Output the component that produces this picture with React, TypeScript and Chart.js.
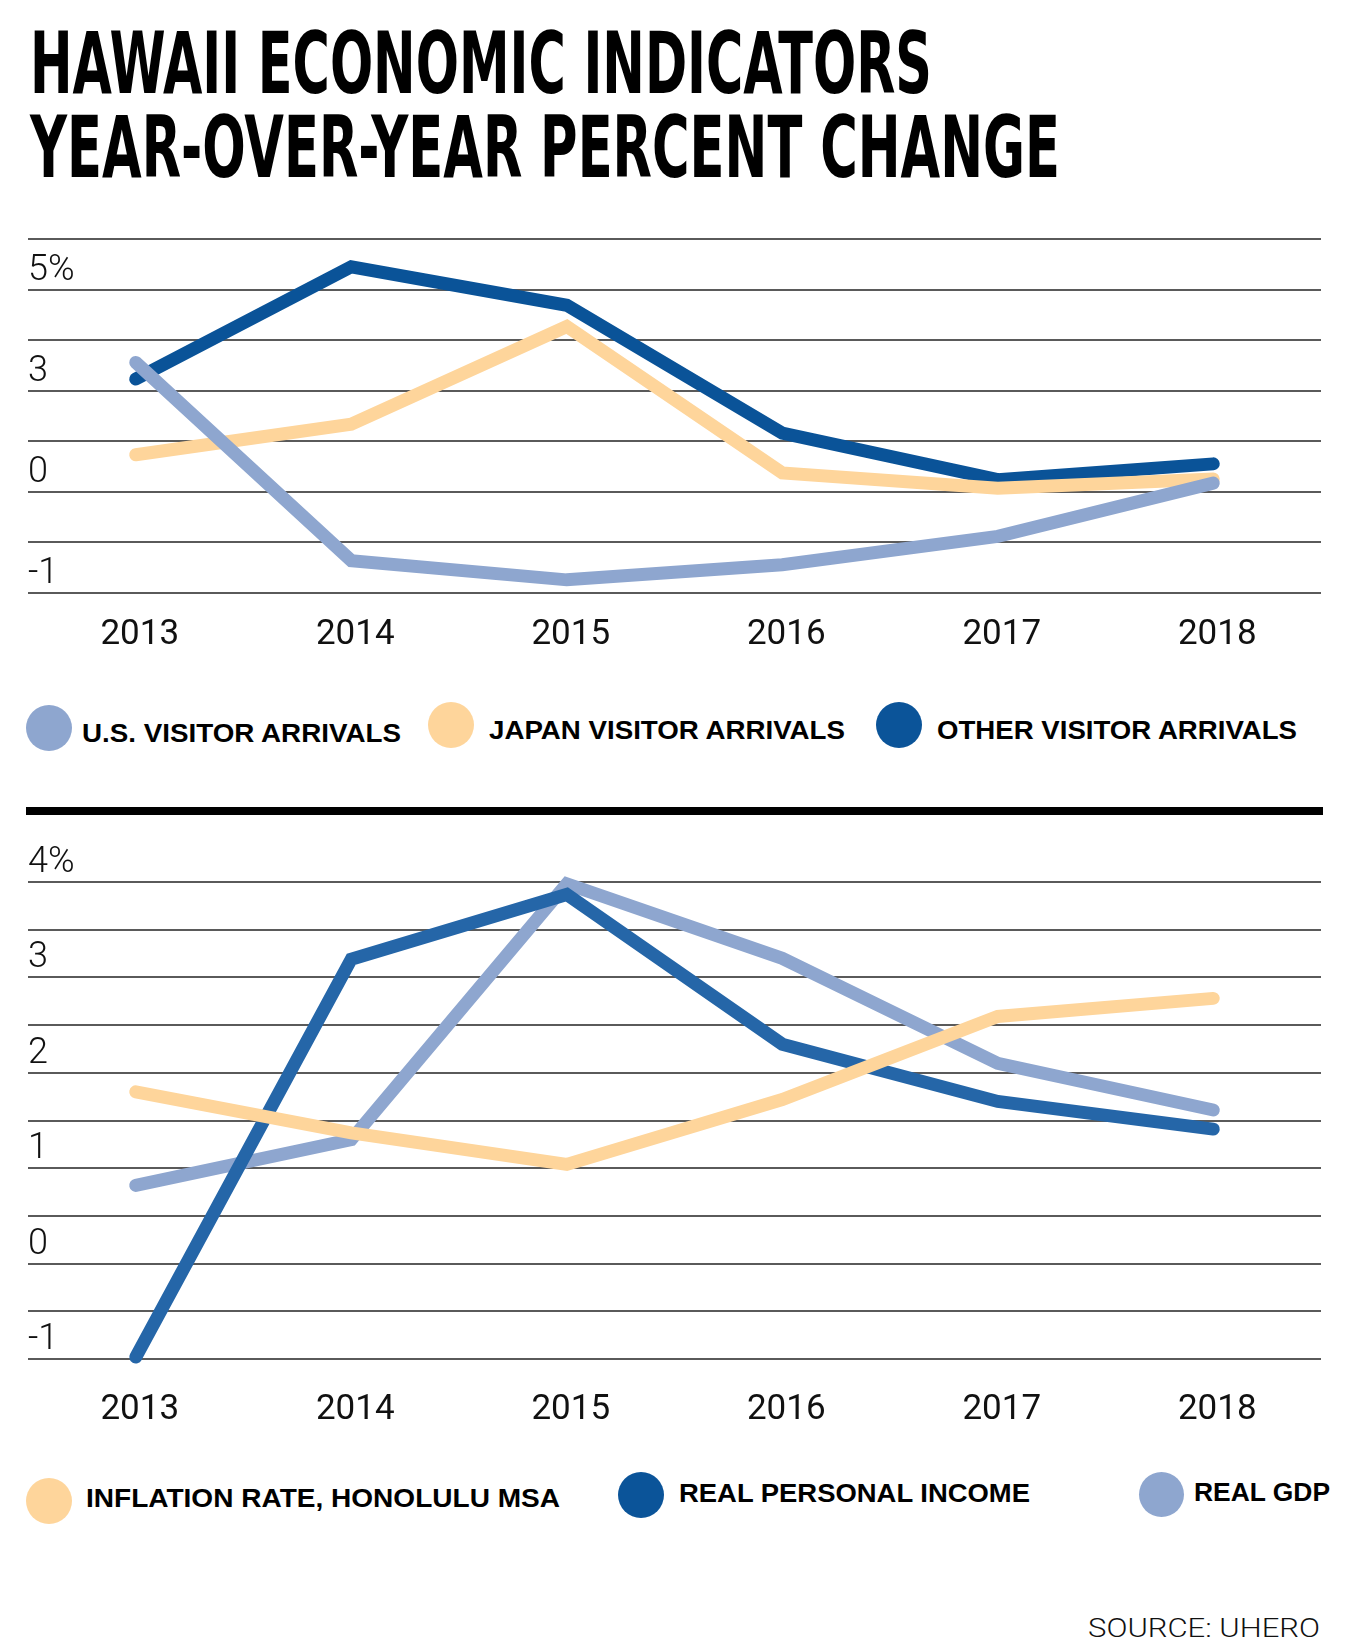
import React, { useEffect, useLayoutEffect, useRef, useState } from "react";
import { Chart, registerables } from "chart.js";

Chart.register(...registerables);

// ---------- DATA ----------
const years = ["2013", "2014", "2015", "2016", "2017", "2018"];

// Top panel: visitor arrivals, year-over-year % change
const usVisitorArrivals = [3.56, -0.68, -0.87, -0.72, -0.44, 0.26];
const japanVisitorArrivals = [1.1, 2.01, 4.27, 0.56, 0.11, 0.38];
const otherVisitorArrivals = [3.23, 5.45, 4.69, 1.74, 0.36, 0.83];
// printed axis labels of the top panel (bottom to top), one on every second gridline
const topTickLabels = [-1, 0, 3, 5];

// Bottom panel
const inflationRate = [1.8, 1.37, 1.04, 1.72, 2.59, 2.78];
const realPersonalIncome = [-0.98, 3.19, 3.87, 2.3, 1.7, 1.41];
const realGDP = [0.82, 1.3, 3.98, 3.2, 2.1, 1.61];
const bottomTickLabels = [-1, 0, 1, 2, 3, 4];

const topLegendLabels = ["U.S. VISITOR ARRIVALS", "JAPAN VISITOR ARRIVALS", "OTHER VISITOR ARRIVALS"];
const bottomLegendLabels = ["INFLATION RATE, HONOLULU MSA", "REAL PERSONAL INCOME", "REAL GDP"];

// ---------- STYLE ----------
const LIGHT_BLUE = "#8ea6cf";
const PEACH = "#fed59b";
const DARK_BLUE = "#0a5398";
const MID_BLUE = "#2566a8";
const LEGEND_DARK = "#0b5499";

const GRID = "#5a5a5a";
const TICK_FONT = "Roboto";

// top panel's axis: the printed labels sit on every 2nd gridline; map a value to gridline units
function topPos(v: number): number {
  const L = topTickLabels;
  for (let i = 0; i < L.length - 1; i++) {
    if (v <= L[i + 1] || i === L.length - 2) {
      return 2 * i + (2 * (v - L[i])) / (L[i + 1] - L[i]);
    }
  }
  return 0;
}
const TOP_MAX = 2 * (topTickLabels.length - 1) + 1;

function lineDataset(label: string, data: number[], color: string) {
  return {
    label,
    data,
    borderColor: color,
    backgroundColor: color,
    borderWidth: 13,
    borderCapStyle: "round" as const,
    borderJoinStyle: "miter" as const,
    pointRadius: 0,
    tension: 0,
    fill: false,
    clip: false as any,
  };
}

function baseOptions(yCfg: any, xPad: number) {
  return {
    animation: false as const,
    responsive: false,
    maintainAspectRatio: false,
    layout: { padding: { top: 50, left: 28, right: 30, bottom: 0 } },
    plugins: {
      legend: { display: false },
      tooltip: { enabled: false },
      title: { display: false },
    },
    scales: {
      x: {
        type: "category" as const,
        offset: true,
        grid: { display: false, drawTicks: false },
        border: { display: false },
        ticks: {
          padding: xPad,
          color: "#111",
          autoSkip: false,
          maxRotation: 0,
          labelOffset: 4,
          font: { family: TICK_FONT, size: 35, weight: "400" as any },
        },
      },
      y: {
        type: "linear" as const,
        min: yCfg.min,
        max: yCfg.max,
        afterBuildTicks: (scale: any) => {
          scale.ticks = yCfg.ticks.map((v: number) => ({ value: v }));
        },
        grid: { color: GRID, lineWidth: 2, drawTicks: false },
        border: { display: false },
        ticks: {
          mirror: true,
          padding: 0,
          labelOffset: -19,
          autoSkip: false,
          color: "#111",
          font: { family: TICK_FONT, size: 36, weight: "300" as any },
          callback: yCfg.callback,
        },
      },
    },
  };
}

function TopChart() {
  const ref = useRef<HTMLCanvasElement>(null);
  useEffect(() => {
    if (!ref.current) return;
    const ticks: number[] = [];
    for (let p = 0; p <= TOP_MAX; p++) ticks.push(p);
    const chart = new Chart(ref.current, {
      type: "line",
      data: {
        labels: years,
        datasets: [
          lineDataset(topLegendLabels[0], usVisitorArrivals.map(topPos), LIGHT_BLUE),
          lineDataset(topLegendLabels[1], japanVisitorArrivals.map(topPos), PEACH),
          lineDataset(topLegendLabels[2], otherVisitorArrivals.map(topPos), DARK_BLUE),
        ],
      },
      options: baseOptions(
        {
          min: 0,
          max: TOP_MAX,
          ticks,
          callback: (val: any) => {
            const p = Number(val);
            if (p % 2 !== 0) return "";
            const i = p / 2;
            if (i >= topTickLabels.length) return "";
            const v = topTickLabels[i];
            return i === topTickLabels.length - 1 ? `${v}%` : `${v}`;
          },
        },
        21
      ) as any,
    });
    return () => chart.destroy();
  }, []);
  return (
    <canvas
      ref={ref}
      width={1351}
      height={488}
      style={{ position: "absolute", left: 0, top: 189, width: 1351, height: 488 }}
    />
  );
}

function BottomChart() {
  const ref = useRef<HTMLCanvasElement>(null);
  useEffect(() => {
    if (!ref.current) return;
    const lo = bottomTickLabels[0];
    const hi = bottomTickLabels[bottomTickLabels.length - 1];
    const ticks: number[] = [];
    for (let v = lo * 2; v <= hi * 2; v++) ticks.push(v / 2);
    const chart = new Chart(ref.current, {
      type: "line",
      data: {
        labels: years,
        datasets: [
          lineDataset(bottomLegendLabels[0], inflationRate, PEACH),
          lineDataset(bottomLegendLabels[1], realPersonalIncome, MID_BLUE),
          lineDataset(bottomLegendLabels[2], realGDP, LIGHT_BLUE),
        ],
      },
      options: baseOptions(
        {
          min: lo,
          max: hi,
          ticks,
          callback: (val: any) => {
            const v = Number(val);
            if (!Number.isInteger(v)) return "";
            return v === hi ? `${v}%` : `${v}`;
          },
        },
        30
      ) as any,
    });
    return () => chart.destroy();
  }, []);
  return (
    <canvas
      ref={ref}
      width={1351}
      height={629}
      style={{ position: "absolute", left: 0, top: 832, width: 1351, height: 629 }}
    />
  );
}

type FitProps = {
  text: string;
  left: number;
  baseline: number;
  width: number;
  size: number;
  family: string;
  weight: number;
  color?: string;
};

function FitText({ text, left, baseline, width, size, family, weight, color = "#000" }: FitProps) {
  const ref = useRef<HTMLSpanElement>(null);
  const [sx, setSx] = useState(1);
  useLayoutEffect(() => {
    const el = ref.current;
    if (!el) return;
    const w = el.getBoundingClientRect().width / (sx || 1);
    if (w > 0) setSx(width / w);
    // eslint-disable-next-line
  }, [text, width, size, family, weight]);
  return (
    <span
      ref={ref}
      style={{
        position: "absolute",
        display: "block",
        left,
        top: baseline - 0.846 * size,
        fontFamily: family,
        fontSize: size,
        fontWeight: weight,
        lineHeight: `${size}px`,
        whiteSpace: "nowrap",
        color,
        transform: `scaleX(${sx})`,
        transformOrigin: "0 0",
      }}
    >
      {text}
    </span>
  );
}

function Dot({ cx, cy, d, color }: { cx: number; cy: number; d: number; color: string }) {
  return (
    <div
      style={{
        position: "absolute",
        left: cx - d / 2,
        top: cy - d / 2,
        width: d,
        height: d,
        borderRadius: "50%",
        background: color,
      }}
    />
  );
}

const TITLE_FONT = '"Liberation Sans Narrow", "Arial Narrow", "DejaVu Sans Condensed", sans-serif';
const LEGEND_FONT = '"Liberation Sans", Arial, sans-serif';

export default function App() {
  return (
    <div
      style={{
        position: "absolute",
        left: 0,
        top: 0,
        width: 1351,
        height: 1649,
        background: "#fff",
        overflow: "hidden",
      }}
    >
      <FitText text="HAWAII ECONOMIC INDICATORS" left={30} baseline={93.3} width={902} size={85} family={TITLE_FONT} weight={700} />
      <FitText text="YEAR-OVER-YEAR PERCENT CHANGE" left={30} baseline={176.7} width={1030} size={85} family={TITLE_FONT} weight={700} />

      <TopChart />

      <Dot cx={49} cy={727.5} d={46} color={LIGHT_BLUE} />
      <FitText text={topLegendLabels[0]} left={82} baseline={741.7} width={319} size={26} family={LEGEND_FONT} weight={700} />
      <Dot cx={451} cy={725} d={46} color={PEACH} />
      <FitText text={topLegendLabels[1]} left={489} baseline={739} width={356} size={26} family={LEGEND_FONT} weight={700} />
      <Dot cx={899} cy={725} d={46} color={LEGEND_DARK} />
      <FitText text={topLegendLabels[2]} left={937} baseline={739} width={360} size={26} family={LEGEND_FONT} weight={700} />

      <div style={{ position: "absolute", left: 26, top: 807, width: 1297, height: 8, background: "#000" }} />

      <BottomChart />

      <Dot cx={49} cy={1501} d={46} color={PEACH} />
      <FitText text={bottomLegendLabels[0]} left={86} baseline={1507} width={474} size={26} family={LEGEND_FONT} weight={700} />
      <Dot cx={641} cy={1495} d={46} color={LEGEND_DARK} />
      <FitText text={bottomLegendLabels[1]} left={679} baseline={1501.7} width={351} size={26} family={LEGEND_FONT} weight={700} />
      <Dot cx={1161} cy={1494} d={45} color={LIGHT_BLUE} />
      <FitText text={bottomLegendLabels[2]} left={1194} baseline={1501} width={136} size={26} family={LEGEND_FONT} weight={700} />

      <FitText text="SOURCE: UHERO" left={1088} baseline={1637} width={232} size={26} family="Roboto" weight={300} color="#111" />
    </div>
  );
}
